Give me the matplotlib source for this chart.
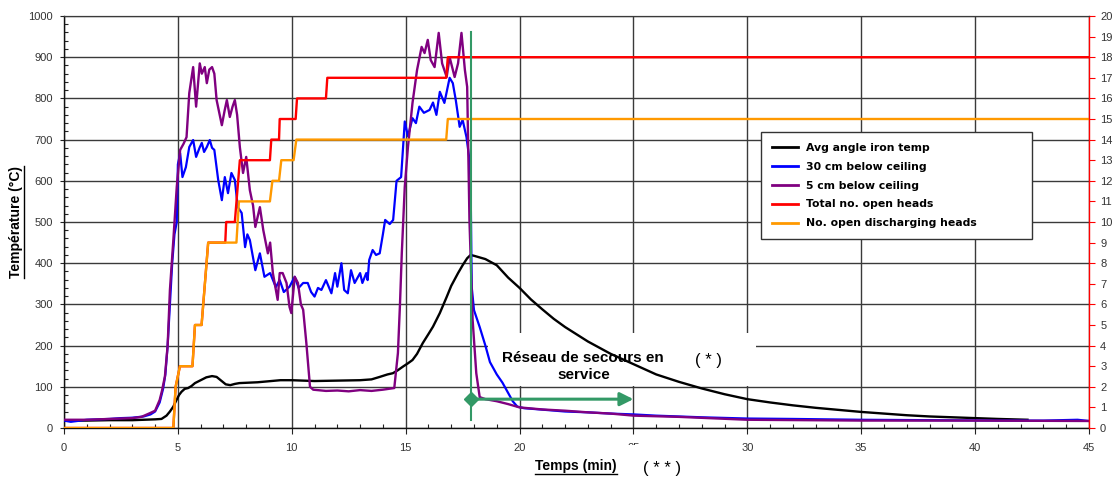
import matplotlib
matplotlib.use("Agg")
import matplotlib.pyplot as plt
from matplotlib.ticker import MultipleLocator
from matplotlib.patches import Rectangle
from matplotlib.lines import Line2D

plt.rcParams['font.family'] = ['Liberation Sans', 'DejaVu Sans']

# ---------------- data ----------------
# Avg angle iron temp (°C)
k_t = [0, 1, 2, 3, 3.5, 4.0, 4.28, 4.5, 4.65, 4.8, 4.94, 5.05, 5.16, 5.3, 5.45, 5.6, 5.75,
       6.0, 6.25, 6.5, 6.7, 6.9, 7.1, 7.3, 7.5, 7.7, 8.5, 9.5, 10, 11, 12, 13, 13.5, 13.86,
       14.2, 14.44, 14.65, 14.88, 15.1, 15.3, 15.5, 15.75, 16.0, 16.2, 16.5, 16.8, 17.0, 17.3,
       17.5, 17.7, 17.85, 18.0, 18.5, 19.0, 19.5, 20, 20.5, 21, 21.5, 22, 23, 24, 25, 26, 27,
       28, 29, 30, 31, 32, 33, 34, 35, 36, 37, 38, 39, 40, 41, 42.3]
k_v = [18, 18, 19, 19, 20, 21, 22, 30, 40, 52, 68, 80, 88, 95, 97, 102, 109,
       116, 123, 126, 124, 115, 106, 104, 107, 109, 111, 116, 116, 114, 115, 116, 118, 124,
       130, 133, 140, 149, 157, 165, 180, 206, 228, 246, 279, 318, 345, 376,
       395, 412, 420, 418, 410, 395, 365, 340, 312, 288, 265, 245, 210, 180, 155, 130, 112,
       96, 82, 70, 62, 55, 49, 44, 39, 35, 31, 28, 26, 24, 22, 20]

# 30 cm below ceiling (°C)
b_t = [0, 0.3, 1, 2, 2.5, 3, 3.5, 3.8, 4.0, 4.2, 4.35, 4.45, 4.55, 4.65, 4.75, 4.85, 4.95,
       5.0, 5.1, 5.2, 5.35, 5.5, 5.67, 5.8, 5.95, 6.05, 6.15, 6.27, 6.4, 6.5, 6.6, 6.77, 6.93,
       7.06, 7.2, 7.35, 7.5, 7.63, 7.8, 7.95, 8.05, 8.16, 8.4, 8.6, 8.8, 9.05, 9.3, 9.47, 9.65,
       9.9, 10.13, 10.3, 10.5, 10.7, 10.85, 11.0, 11.15, 11.3, 11.5, 11.74, 11.9, 12.0, 12.18,
       12.3, 12.46, 12.6, 12.76, 13.0, 13.1, 13.27, 13.33, 13.4, 13.55, 13.7, 13.86, 14.0, 14.1,
       14.3, 14.45, 14.6, 14.8, 14.96, 15.1, 15.3, 15.45, 15.6, 15.8, 16.05, 16.2, 16.35, 16.5,
       16.7, 16.93, 17.07, 17.2, 17.37, 17.5, 17.67, 17.78, 17.85, 17.9, 18.0, 18.25, 18.5,
       18.7, 19.0, 19.25, 19.5, 19.7, 19.9, 20.2, 20.9, 22, 23, 24, 25, 26, 27, 28, 30, 32,
       35, 38, 41, 43, 44.5, 45]
b_v = [18, 15, 20, 22, 24, 25, 28, 33, 40, 62, 95, 130, 200, 300, 400, 470, 500,
       640, 667, 609, 633, 682, 699, 658, 680, 692, 670, 682, 699, 680, 675, 602, 553,
       609, 570, 619, 602, 536, 522, 439, 470, 456, 383, 424, 367, 376, 342, 359, 330,
       343, 367, 340, 352, 352, 330, 319, 340, 335, 359, 327, 376, 343, 400,
       335, 327, 383, 352, 376, 352, 376, 359, 408, 432, 420, 424, 470, 505,
       495, 505, 600, 609, 744, 708, 752, 740, 780, 765, 772, 790, 760, 816,
       789, 850, 837, 796, 731, 748, 706, 660, 600, 342, 286, 245, 200,
       160, 130, 110, 85, 65, 52, 48, 45, 40, 38, 35, 33, 30, 28, 26, 23, 22,
       20, 19, 18, 18, 20, 17]

# 5 cm below ceiling (°C)
p_t = [0, 1, 2, 3, 3.4, 3.77, 4.0, 4.2, 4.3, 4.43, 4.55, 4.65, 4.8, 4.95, 5.1, 5.25, 5.38,
       5.5, 5.67, 5.8, 5.96, 6.05, 6.18, 6.27, 6.38, 6.5, 6.6, 6.7, 6.93, 7.05, 7.15, 7.28,
       7.4, 7.5, 7.6, 7.72, 7.86, 8.0, 8.16, 8.3, 8.4, 8.6, 8.75, 8.95, 9.05, 9.17, 9.38,
       9.47, 9.6, 9.77, 9.9, 9.98, 10.13, 10.27, 10.4, 10.5, 10.64, 10.8, 10.94, 11.5, 12,
       12.5, 13, 13.5, 14, 14.5, 14.66, 14.75, 14.83, 14.96, 15.1, 15.3, 15.5, 15.7, 15.83,
       15.97, 16.1, 16.27, 16.45, 16.6, 16.8, 16.93, 17.15, 17.3, 17.45, 17.6, 17.7, 17.8,
       17.94, 18.1, 18.25, 18.5, 19.0, 19.5, 20, 21, 22, 23, 24, 25, 27, 30, 35, 40, 45]
p_v = [20, 20, 22, 24, 27, 36, 42, 68, 90, 125, 200, 335, 456, 585, 675, 690, 706,
       813, 876, 780, 885, 860, 876, 837, 870, 876, 860, 796, 735, 770, 796, 755,
       780, 796, 760, 682, 619, 658, 577, 540, 488, 536, 480, 424, 450, 376, 311,
       376, 376, 352, 294, 279, 367, 352, 300, 287, 206, 100, 93, 90, 91,
       89, 92, 90, 93, 97, 182, 300, 424, 585, 682, 789, 869, 925, 910,
       942, 893, 876, 959, 885, 852, 900, 852, 885, 959, 869, 828, 505,
       262, 133, 75, 70, 65, 58, 50, 45, 42, 38, 35, 30, 27, 20, 18, 18, 17]

# Total no. open heads (right axis)
r_t = [0, 4.8, 4.9, 5.09, 5.64, 5.75, 6.04, 6.33, 7.08, 7.12, 7.5, 7.72, 9.04, 9.1, 9.44,
       9.47, 10.17, 10.23, 11.5, 11.56, 16.78, 16.85, 45]
r_v = [0, 0, 2, 3, 3, 5, 5, 9, 9, 10, 10, 13, 13, 14, 14,
       15, 15, 16, 16, 17, 17, 18, 18]

# No. open discharging heads (right axis)
o_t = [0, 4.8, 4.9, 5.09, 5.64, 5.75, 6.04, 6.33, 7.57, 7.68, 9.04, 9.15, 9.44, 9.54,
       10.08, 10.2, 16.78, 16.85, 45]
o_v = [0, 0, 2, 3, 3, 5, 5, 9, 9, 11, 11, 12, 12, 13,
       13, 14, 14, 15, 15]

labels = ["Avg angle iron temp", "30 cm below ceiling", "5 cm below ceiling",
          "Total no. open heads", "No. open discharging heads"]

# green marker: start of the back-up network
g_time = 17.85
g_end = 25.0
g_level = 70
g_top = 960
g_bottom = 20

# ---------------- figure ----------------
W, H = 1118, 479
fig = plt.figure(figsize=(W / 100, H / 100), dpi=100)
fig.patch.set_facecolor('white')
ax1 = fig.add_axes([64 / W, 1 - 428 / H, (1089 - 64) / W, (428 - 16) / H])
ax2 = ax1.twinx()

grid_c = '#3a3a3a'
tick_c = '#333333'

ax1.set_xlim(0, 45)
ax1.set_ylim(0, 1000)
ax2.set_ylim(0, 20)

ax1.set_axisbelow(True)
ax1.xaxis.set_major_locator(MultipleLocator(5))
ax1.xaxis.set_minor_locator(MultipleLocator(1))
ax1.yaxis.set_major_locator(MultipleLocator(100))
ax1.yaxis.set_minor_locator(MultipleLocator(20))
ax2.yaxis.set_major_locator(MultipleLocator(1))
ax1.grid(True, which='major', color=grid_c, lw=1.0)

ax1.tick_params(axis='x', which='major', direction='out', length=4, width=0.8,
                color='#222222', labelsize=8, pad=7, labelcolor=tick_c)
ax1.tick_params(axis='x', which='minor', direction='in', length=3, width=0.8, color='#222222')
ax1.tick_params(axis='y', which='major', direction='out', length=3, width=0.8,
                color='#222222', labelsize=8, pad=5, labelcolor=tick_c)
ax1.tick_params(axis='y', which='minor', direction='in', length=3, width=0.8, color='#222222')
ax2.tick_params(axis='y', direction='out', length=4, width=0.8, color='red',
                labelsize=8, pad=4, labelcolor=tick_c)

for s in ['left', 'bottom']:
    ax1.spines[s].set_color('#111111')
    ax1.spines[s].set_linewidth(1.0)
ax1.spines['top'].set_color(grid_c)
ax1.spines['right'].set_visible(False)
ax2.spines['right'].set_color('red')
ax2.spines['right'].set_linewidth(1.0)
ax2.spines['top'].set_color(grid_c)
ax2.spines['left'].set_visible(False)
ax2.spines['bottom'].set_visible(False)

# white area behind the annotation text
ax1.add_patch(Rectangle((18.6, 103), 11.8, 127, facecolor='white', edgecolor='none', zorder=1))

l1, = ax1.plot(k_t, k_v, color='black', lw=1.7, zorder=3)
l2, = ax1.plot(b_t, b_v, color='#0000ff', lw=1.6, zorder=3)
l3, = ax1.plot(p_t, p_v, color='#800080', lw=1.7, zorder=3)
l4, = ax2.plot(r_t, r_v, color='#ff0000', lw=1.7)
l5, = ax2.plot(o_t, o_v, color='#ff9900', lw=1.7)

green = '#339966'
ax2.plot([g_time, g_time], [g_bottom, g_top], color=green, lw=1.5, transform=ax1.transData, zorder=4)
ax2.annotate('', xy=(g_end, g_level), xytext=(g_time, g_level),
             xycoords=ax1.transData, textcoords=ax1.transData,
             arrowprops=dict(arrowstyle='-|>,head_length=0.8,head_width=0.4', color=green,
                             lw=2.2, mutation_scale=10, shrinkA=0, shrinkB=0), zorder=4)
ax2.plot([g_time], [g_level], marker='D', color=green, ms=7, transform=ax1.transData, zorder=5)

ax1.text(22.8, 150, "Réseau de secours en\nservice", ha='center', va='center',
         fontsize=11, fontweight='bold', linespacing=1.3, zorder=2.5)
ax1.text(28.3, 165, "( * )", ha='center', va='center', fontsize=12, zorder=2.5)

# legend
leg_x0, leg_y0 = 761 / W, 1 - 248 / H
leg_w, leg_h = (1032 - 761) / W, (248 - 132) / H
leg = ax2.legend([l1, l2, l3, l4, l5], labels, loc='upper left',
                 bbox_to_anchor=(leg_x0, leg_y0, leg_w, leg_h), bbox_transform=fig.transFigure,
                 mode='expand', borderaxespad=0, fancybox=False, frameon=True,
                 prop={'family': 'DejaVu Sans', 'weight': 'bold', 'size': 7.8},
                 handlelength=2.4, handletextpad=0.8, labelspacing=0.82, borderpad=1.0)
leg.get_frame().set_edgecolor('#333333')
leg.get_frame().set_linewidth(1.0)
leg.get_frame().set_facecolor('white')
leg.get_frame().set_alpha(1)
for h in leg.get_lines():
    h.set_linewidth(2.0)

# axis labels (bold, underlined)
xl = fig.text(576 / W, 1 - 466 / H, "Temps (min)", ha='center', va='center',
              fontsize=10, fontweight='bold')
yl = fig.text(16 / W, 1 - 222 / H, "Température (°C)", ha='center', va='center',
              fontsize=10, fontweight='bold', rotation=90)

# white area at the bottom with ( * * )
fig.patches.append(Rectangle((624 / W, 0), 76 / W, (H - 445) / H, transform=fig.transFigure,
                             facecolor='white', edgecolor='none', zorder=5, figure=fig))
fig.text(662 / W, 1 - 468 / H, "( * * )", ha='center', va='center', fontsize=12, zorder=6)

fig.canvas.draw()
r = fig.canvas.get_renderer()
bb = xl.get_window_extent(r)
fig.add_artist(Line2D([bb.x0 / W, bb.x1 / W], [(bb.y0 - 1) / H, (bb.y0 - 1) / H],
                      color='black', lw=1.0, transform=fig.transFigure))
bb = yl.get_window_extent(r)
fig.add_artist(Line2D([(bb.x1 + 1) / W, (bb.x1 + 1) / W], [bb.y0 / H, bb.y1 / H],
                      color='black', lw=1.0, transform=fig.transFigure))

fig.savefig('out.png', dpi=100, facecolor='white')
